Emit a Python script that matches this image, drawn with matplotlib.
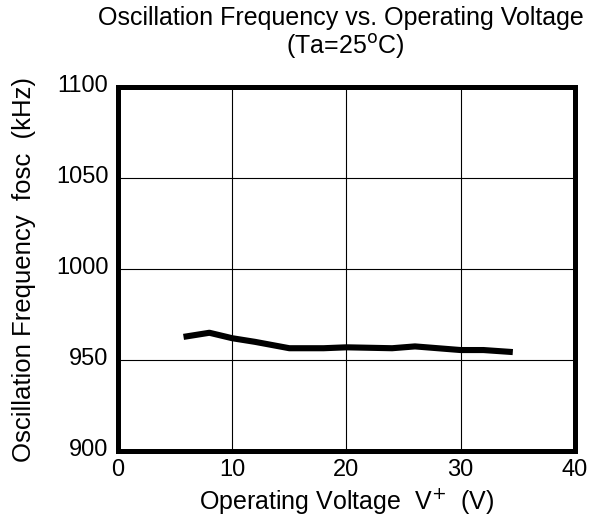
import matplotlib
matplotlib.use("Agg")
import matplotlib.pyplot as plt
from matplotlib.transforms import ScaledTranslation

plt.rcParams['font.family'] = ['Liberation Sans', 'DejaVu Sans']

# data
voltage = [6, 8, 10, 12, 15, 18, 20, 24, 26, 30, 32, 34.3]
fosc = [963, 965, 962, 960, 956.5, 956.5, 957, 956.5, 957.5, 955.5, 955.5, 954.5]
x_ticks = [0, 10, 20, 30, 40]
y_ticks = [900, 950, 1000, 1050, 1100]

fig = plt.figure(figsize=(5.91, 5.22), dpi=100)
ax = fig.add_axes([0.1997, 0.136, 0.773, 0.697])

ax.plot(voltage, fosc, color="black", linewidth=4.4, solid_joinstyle="round")

ax.set_xlim(0, 40)
ax.set_ylim(900, 1100)
ax.set_xticks(x_ticks)
ax.set_yticks(y_ticks)
ax.grid(True, color="black", linewidth=0.8)
ax.tick_params(length=0, labelsize=17)
ax.tick_params(axis="x", pad=6)
ax.tick_params(axis="y", pad=7)
for lbl in ax.get_yticklabels():
    lbl.set_transform(lbl.get_transform() + ScaledTranslation(0, 4 / 100, fig.dpi_scale_trans))
for s in ax.spines.values():
    s.set_linewidth(3.6)
    s.set_zorder(5)

ax.set_xlabel("Operating Voltage  V$^{+}$  (V)", fontsize=18, labelpad=3)
ax.set_ylabel("Oscillation Frequency  fosc  (kHz)", fontsize=18.5, labelpad=14)

fig.text(0.988, 0.965, "Oscillation Frequency vs. Operating Voltage", fontsize=18,
         ha="right", va="center")
fig.text(0.585, 0.91, "(Ta=25$^{\\rm o}$C)", fontsize=18, ha="center", va="center")

fig.savefig("out.png", dpi=100)
